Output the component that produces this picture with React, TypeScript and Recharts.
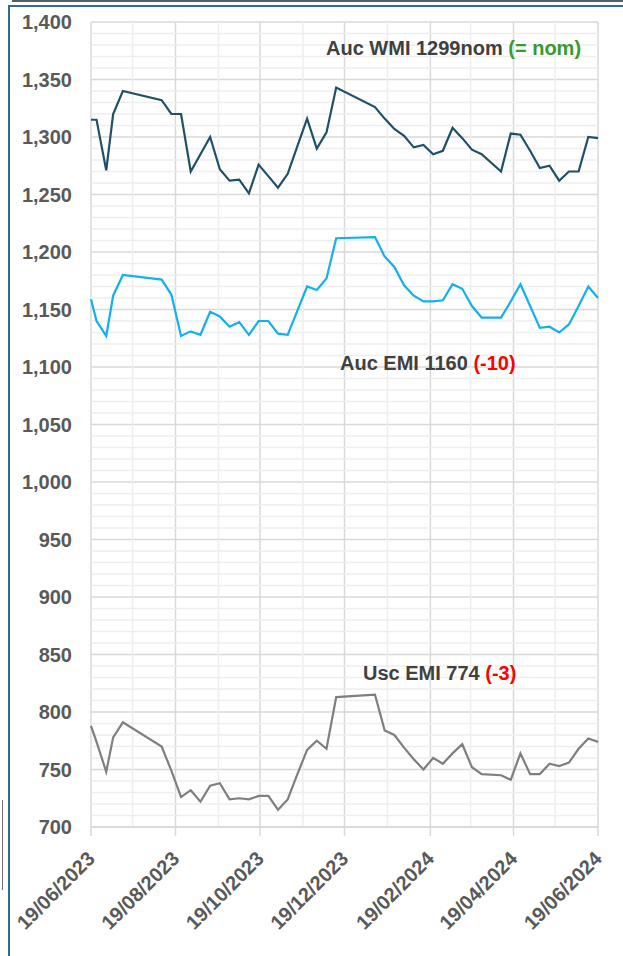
import { LineChart, Line, XAxis, YAxis, CartesianGrid, ReferenceLine } from "recharts";

// weekly observation dates
const dates = [
  "2023-06-19", "2023-06-23", "2023-06-30", "2023-07-05", "2023-07-12",
  "2023-08-09", "2023-08-16", "2023-08-23", "2023-08-30", "2023-09-06",
  "2023-09-13", "2023-09-20", "2023-09-27", "2023-10-04", "2023-10-11",
  "2023-10-18", "2023-10-25", "2023-11-01", "2023-11-08", "2023-11-15",
  "2023-11-22", "2023-11-29", "2023-12-06", "2023-12-13", "2024-01-10",
  "2024-01-17", "2024-01-24", "2024-01-31", "2024-02-07", "2024-02-14",
  "2024-02-21", "2024-02-28", "2024-03-06", "2024-03-13", "2024-03-20",
  "2024-03-27", "2024-04-10", "2024-04-17", "2024-04-24", "2024-05-01",
  "2024-05-08", "2024-05-15", "2024-05-22", "2024-05-29", "2024-06-05",
  "2024-06-12", "2024-06-19",
];

const aucWmi = [
  1315, 1315, 1271, 1320, 1340, 1332, 1320, 1320, 1270, 1285,
  1300, 1272, 1262, 1263, 1251, 1276, 1266, 1256, 1268, 1292,
  1316, 1290, 1304, 1343, 1326, 1316, 1307, 1301, 1291, 1293,
  1285, 1288, 1308, 1299, 1289, 1285, 1270, 1303, 1302, 1288,
  1273, 1275, 1262, 1270, 1270, 1300, 1299,
];

const aucEmi = [
  1159, 1140, 1127, 1162, 1180, 1176, 1163, 1127, 1131, 1128,
  1148, 1144, 1135, 1139, 1128, 1140, 1140, 1129, 1128, 1149,
  1170, 1167, 1177, 1212, 1213, 1196, 1187, 1171, 1162, 1157,
  1157, 1158, 1172, 1168, 1153, 1143, 1143, 1157, 1172, 1153,
  1134, 1135, 1130, 1137, 1153, 1170, 1160,
];

const uscEmi = [
  788, 774, 748, 778, 791, 770, 749, 726, 732, 722,
  736, 738, 724, 725, 724, 727, 727, 715, 724, 746,
  767, 775, 768, 813, 815, 784, 780, 769, 759, 750,
  760, 755, 764, 772, 752, 746, 745, 741, 764, 746,
  746, 755, 753, 756, 768, 777, 774,
];

const xTickDates = [
  "2023-06-19", "2023-08-19", "2023-10-19", "2023-12-19",
  "2024-02-19", "2024-04-19", "2024-06-19",
];
const xMinorDates = [
  "2023-07-19", "2023-09-19", "2023-11-19", "2024-01-19", "2024-03-19", "2024-05-19",
];
const yTicks = [700, 750, 800, 850, 900, 950, 1000, 1050, 1100, 1150, 1200, 1250, 1300, 1350, 1400];
const yMinorTicks = Array.from({ length: 71 }, (_, i) => 700 + i * 10).filter((v) => v % 50 !== 0);

const toTime = (s: string) => {
  const [y, m, d] = s.split("-").map(Number);
  return Date.UTC(y, m - 1, d);
};

const fmtDate = (t: number) => {
  const d = new Date(t);
  const dd = String(d.getUTCDate()).padStart(2, "0");
  const mm = String(d.getUTCMonth() + 1).padStart(2, "0");
  return `${dd}/${mm}/${d.getUTCFullYear()}`;
};

const data = dates.map((d, i) => ({
  t: toTime(d),
  wmi: aucWmi[i],
  emi: aucEmi[i],
  usc: uscEmi[i],
}));

const xDomain = [toTime(dates[0]), toTime(dates[dates.length - 1])];
const FONT = "'Liberation Sans', Arial, sans-serif";
const MINOR = "#eeeeee";

const DateTick = ({ x, y, payload }: any) => (
  <g transform={`translate(${x + 5},${y + 22})`}>
    <text
      x={0}
      y={0}
      textAnchor="end"
      transform="rotate(-45)"
      fill="#595959"
      fontSize={20}
      fontWeight={700}
      fontFamily={FONT}
    >
      {fmtDate(payload.value)}
    </text>
  </g>
);

const labelStyle = {
  position: "absolute" as const,
  fontFamily: FONT,
  fontWeight: 700,
  fontSize: 20,
  lineHeight: "20px",
  color: "#404040",
  whiteSpace: "nowrap" as const,
};

export default function App() {
  return (
    <div
      style={{
        position: "fixed",
        left: 0,
        top: 0,
        width: 623,
        height: 956,
        background: "#fff",
        overflow: "hidden",
      }}
    >
      <div style={{ position: "absolute", left: 12, top: 0, right: 0, height: 2, background: "#565b68" }} />
      <div style={{ position: "absolute", left: 8, top: 5, right: 0, height: 1.5, background: "#2f6c93" }} />
      <div style={{ position: "absolute", left: 8, top: 5, bottom: 0, width: 1.5, background: "#2f6c93" }} />
      <div style={{ position: "absolute", left: 2, top: 800, height: 90, width: 1, background: "#6b6f7a" }} />

      <div style={{ position: "absolute", left: 0, top: 0 }}>
        <LineChart
          width={623}
          height={956}
          data={data}
          margin={{ top: 22, right: 25, left: 0, bottom: 0 }}
        >
          {yMinorTicks.map((v) => (
            <ReferenceLine key={`h${v}`} y={v} stroke={MINOR} strokeWidth={1.5} />
          ))}
          {xMinorDates.map((d) => (
            <ReferenceLine key={`v${d}`} x={toTime(d)} stroke={MINOR} strokeWidth={1.5} />
          ))}
          <CartesianGrid stroke="#d9d9d9" strokeWidth={1.5} />
          <XAxis
            dataKey="t"
            type="number"
            domain={xDomain}
            ticks={xTickDates.map(toTime)}
            height={129}
            interval={0}
            axisLine={{ stroke: "#d9d9d9", strokeWidth: 1.5 }}
            tickLine={{ stroke: "#d9d9d9", strokeWidth: 1.5 }}
            tickSize={9}
            tick={<DateTick />}
          />
          <YAxis
            type="number"
            domain={[700, 1400]}
            ticks={yTicks}
            interval={0}
            width={91}
            axisLine={false}
            tickLine={false}
            tickSize={0}
            tickMargin={19}
            tickFormatter={(v: number) => v.toLocaleString("en-US")}
            tick={{ fill: "#595959", fontSize: 20, fontWeight: 700, fontFamily: FONT }}
          />
          <Line
            dataKey="wmi"
            stroke="#1f5069"
            strokeWidth={2.2}
            dot={false}
            isAnimationActive={false}
          />
          <Line
            dataKey="emi"
            stroke="#14b0ee"
            strokeWidth={2.2}
            dot={false}
            isAnimationActive={false}
          />
          <Line
            dataKey="usc"
            stroke="#7f7f7f"
            strokeWidth={2.2}
            dot={false}
            isAnimationActive={false}
          />
        </LineChart>
      </div>

      <div style={{ ...labelStyle, left: 326, top: 38 }}>
        Auc WMI 1299nom <span style={{ color: "#3a9a2c" }}>(= nom)</span>
      </div>
      <div style={{ ...labelStyle, left: 340, top: 353 }}>
        Auc EMI 1160 <span style={{ color: "#ff0000" }}>(-10)</span>
      </div>
      <div style={{ ...labelStyle, left: 363, top: 663 }}>
        Usc EMI 774 <span style={{ color: "#ff0000" }}>(-3)</span>
      </div>
    </div>
  );
}
